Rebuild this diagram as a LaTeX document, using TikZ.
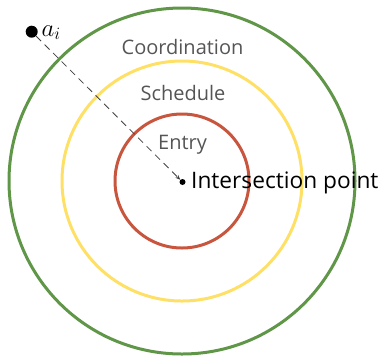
\documentclass[tikz,border=0pt]{standalone}
\usepackage{fontspec}
\setmainfont{Open Sans}
\usetikzlibrary{arrows.meta}
\definecolor{ringgreen}{RGB}{95,150,72}
\definecolor{ringyellow}{RGB}{255,224,102}
\definecolor{ringred}{RGB}{200,85,61}
\definecolor{labelgray}{RGB}{85,85,85}
\tikzset{
  ring/.style={line width=3pt},
  ringlabel/.style={text=labelgray, font=\fontsize{20}{23}\selectfont, inner sep=0pt, anchor=base},
  bigdot/.style={circle, fill=black, inner sep=0pt, minimum size=#1},
}
\begin{document}
\begin{tikzpicture}[x=1pt,y=-1pt]
\useasboundingbox (0,0) rectangle (382,357);
\coordinate (c) at (182,181);
\draw[ring, ringgreen] (c) circle[radius=173];
\draw[ring, ringyellow] (c) circle[radius=120];
\draw[ring, ringred] (c) circle[radius=67];
\node[ringlabel] (coord) at (182.5,54) {Coordination};
\node[ringlabel] (sched) at (183,100) {Schedule};
\node[ringlabel] (entry) at (182.5,149) {Entry};
\node[bigdot=6pt] (ip) at (182.5,182) {};
\node[anchor=base west, inner sep=0pt, font=\fontsize{22.7}{25}\selectfont] (iplab) at (191,188.5) {Intersection point};
\node[bigdot=12pt] (ai) at (31.7,31.7) {};
\node[anchor=base west, inner sep=0pt, font=\fontsize{25}{28}\selectfont] (ailab) at (41.5,36) {$a_i$};
\draw[dashed, dash pattern=on 7pt off 5pt, line width=0.8pt, black!75, -{Stealth[length=5pt,width=4pt]}] (ai) -- (ip);
\end{tikzpicture}
\end{document}
